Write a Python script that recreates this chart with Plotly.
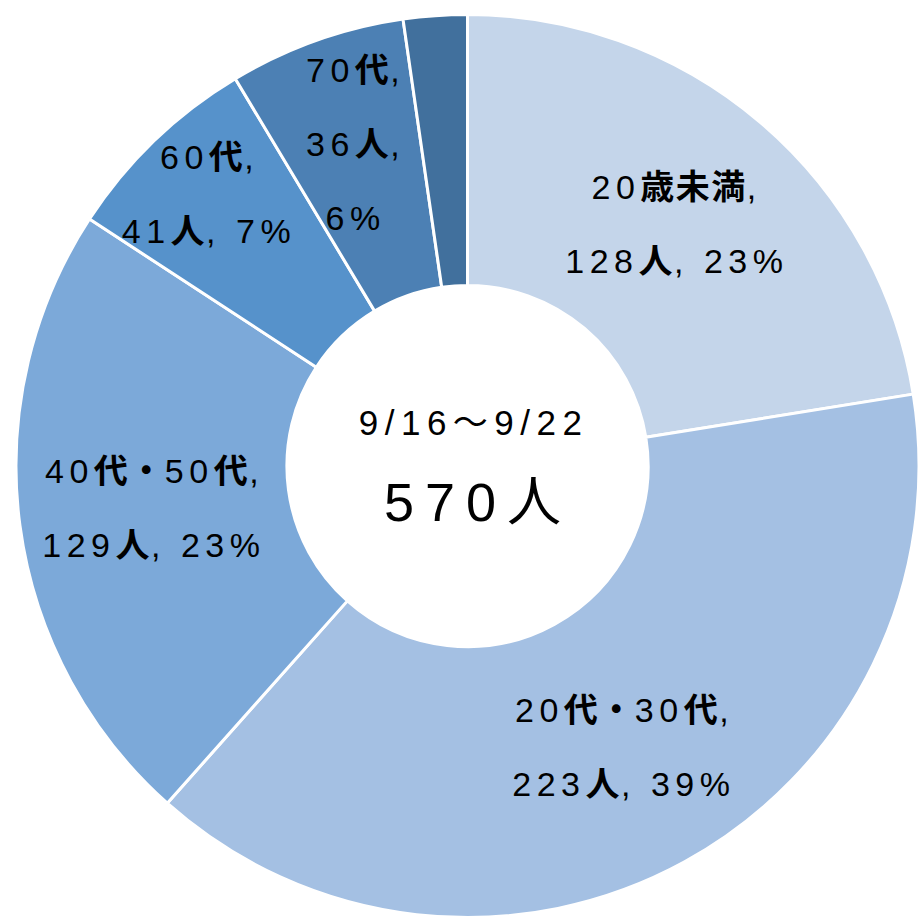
import math
import plotly.graph_objects as go

# ---- data ----
categories = ["20歳未満", "20代・30代", "40代・50代", "60代", "70代", "80代以上"]
counts = [128, 223, 129, 41, 36, 13]
pct_labels = ["23%", "39%", "23%", "7%", "6%", ""]
show_label = [True, True, True, True, True, False]
period_label = "9/16～9/22"
total_label = "570人"

colors = ["#C4D5EA", "#A4C0E3", "#7CA9D9", "#5692CB", "#4C80B4", "#41709D"]
label_radius = [318, 320, 319, 377, 342, 0]  # px from centre (styling)

W, H = 919, 921
cx, cy, R = 467.5, 466.0, 451.5

fig = go.Figure(go.Pie(
    labels=categories, values=counts, sort=False, direction="clockwise",
    rotation=0, hole=0.40, textinfo="none", hoverinfo="label+value+percent",
    marker=dict(colors=colors, line=dict(color="white", width=3)),
    domain=dict(x=[(cx - R) / W, (cx + R) / W], y=[1 - (cy + R) / H, 1 - (cy - R) / H]),
    showlegend=False,
))

FONT = "Liberation Sans, Arial, Noto Sans CJK JP, sans-serif"
LS = 74  # line spacing px

def fmt(s):
    # bold the CJK characters, keep digits/punctuation regular
    out = ""
    for ch in s:
        if ord(ch) > 0x2E80:
            out += "<b>" + ch + "</b>"
        else:
            out += ch
    return out

annotations = []
total = sum(counts)
cum = 0
for i, (cat, v) in enumerate(zip(categories, counts)):
    mid = (cum + v / 2) / total * 2 * math.pi
    cum += v
    if not show_label[i]:
        continue
    px = cx + label_radius[i] * math.sin(mid)
    py = cy - label_radius[i] * math.cos(mid)
    if cat == "70代":
        lines = [fmt(cat) + ",", fmt(f"{v}人") + ",", pct_labels[i]]
    else:
        lines = [fmt(cat) + ",", fmt(f"{v}人") + ", " + pct_labels[i]]
    n = len(lines)
    for k, ln in enumerate(lines):
        ly = py + (k - (n - 1) / 2) * LS
        annotations.append(dict(
            text=ln, x=(px + 3) / W, y=1 - ly / H, xref="paper", yref="paper",
            showarrow=False, xanchor="center", yanchor="middle",
            font=dict(family=FONT, size=34, color="black"),
        ))

annotations.append(dict(text=period_label, x=(cx + 6) / W, y=1 - 422 / H, xref="paper", yref="paper",
                        showarrow=False, font=dict(family=FONT, size=35, color="black")))
annotations.append(dict(text=total_label, x=(cx + 11) / W, y=1 - 502 / H, xref="paper", yref="paper",
                        showarrow=False, font=dict(family=FONT, size=54, color="black")))

fig.update_layout(
    width=W, height=H, margin=dict(l=0, r=0, t=0, b=0, pad=0),
    paper_bgcolor="white", plot_bgcolor="white",
    annotations=annotations,
)

post = """
document.body.style.margin = '0';
document.body.style.overflow = 'hidden';
var gd = document.getElementById('{plot_id}');
gd.querySelectorAll('.annotation-text').forEach(function (t) {
  var fs = parseFloat(t.style.fontSize) || 34;
  var sp = fs > 50 ? 11 : (fs > 34.5 ? 6.5 : 5.5);
  t.style.letterSpacing = sp + 'px';
  t.querySelectorAll('tspan').forEach(function (s) {
    if ((s.style.fontWeight || '').indexOf('bold') >= 0 || s.getAttribute('style') && s.getAttribute('style').indexOf('bold') >= 0) {
      s.style.letterSpacing = (fs > 50 ? 2 : 1.5) + 'px';
    }
  });
});
"""

fig.write_html("out.html", post_script=post, config={"displayModeBar": False})
